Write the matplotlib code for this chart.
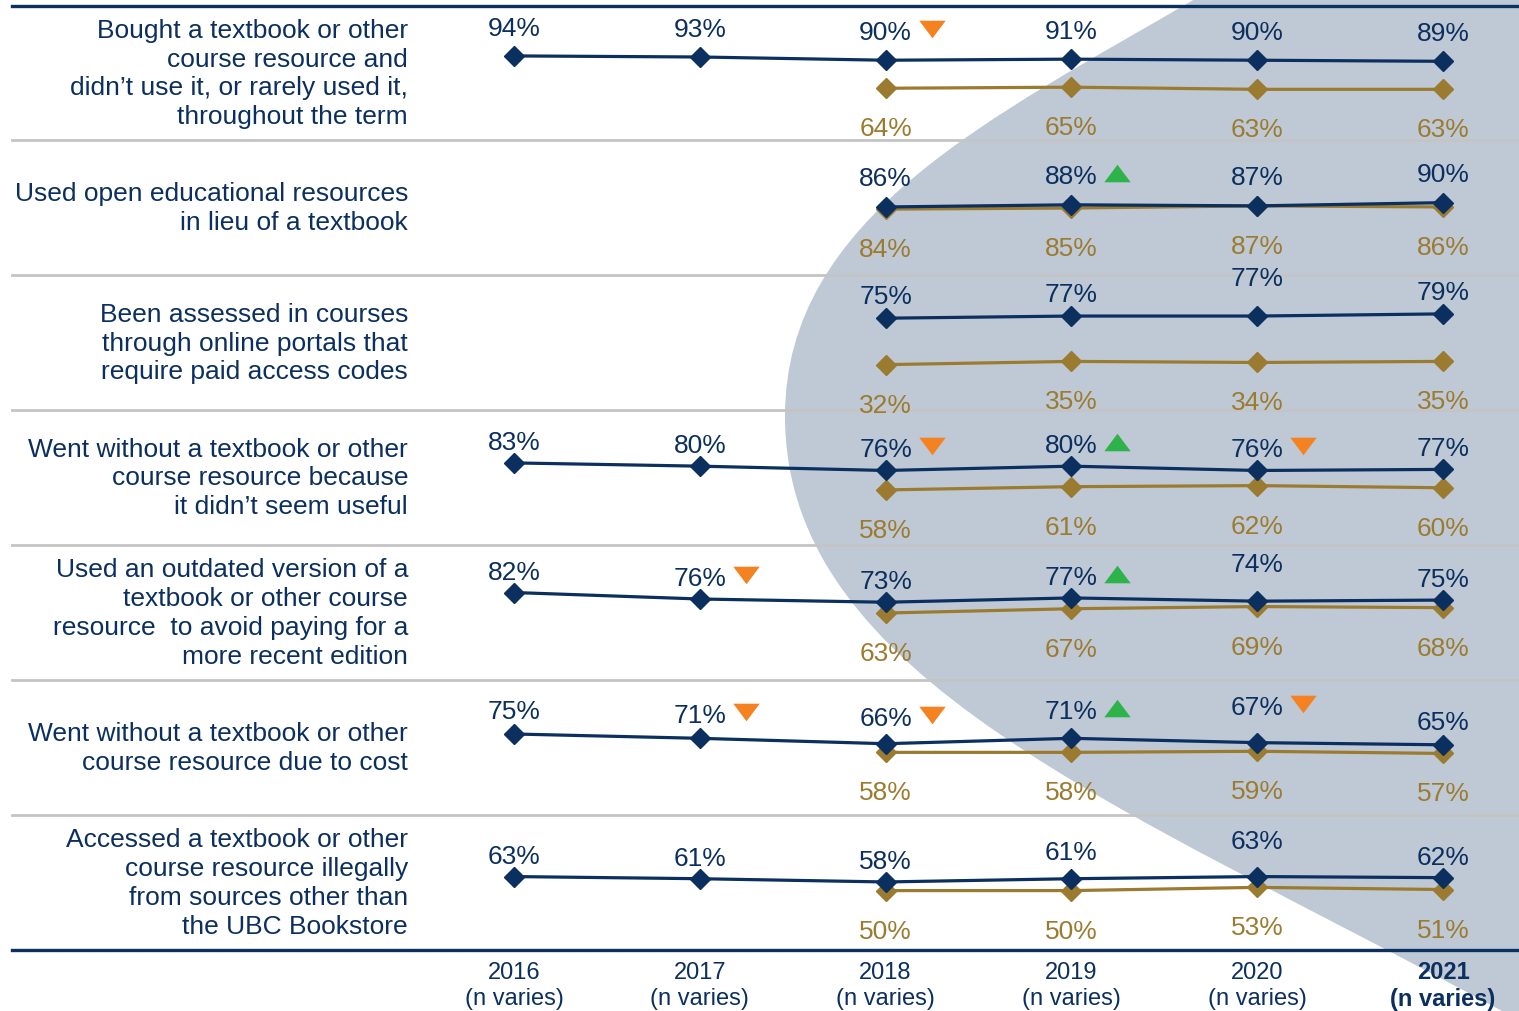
import numpy as np
import matplotlib
matplotlib.use("Agg")
import matplotlib.pyplot as plt
from matplotlib.path import Path
from matplotlib.patches import PathPatch
from matplotlib.transforms import offset_copy

plt.rcParams['font.family'] = ['Liberation Sans', 'DejaVu Sans']

years = ["2016", "2017", "2018", "2019", "2020", "2021"]
categories = [
    "Bought a textbook or other\ncourse resource and\ndidn\u2019t use it, or rarely used it,\nthroughout the term",
    "Used open educational resources\nin lieu of a textbook",
    "Been assessed in courses\nthrough online portals that\nrequire paid access codes",
    "Went without a textbook or other\ncourse resource because\nit didn\u2019t seem useful",
    "Used an outdated version of a\ntextbook or other course\nresource  to avoid paying for a\nmore recent edition",
    "Went without a textbook or other\ncourse resource due to cost",
    "Accessed a textbook or other\ncourse resource illegally\nfrom sources other than\nthe UBC Bookstore",
]
nan = np.nan
navy_vals = [
    [94, 93, 90, 91, 90, 89],
    [nan, nan, 86, 88, 87, 90],
    [nan, nan, 75, 77, 77, 79],
    [83, 80, 76, 80, 76, 77],
    [82, 76, 73, 77, 74, 75],
    [75, 71, 66, 71, 67, 65],
    [63, 61, 58, 61, 63, 62],
]
gold_vals = [
    [nan, nan, 64, 65, 63, 63],
    [nan, nan, 84, 85, 87, 86],
    [nan, nan, 32, 35, 34, 35],
    [nan, nan, 58, 61, 62, 60],
    [nan, nan, 63, 67, 69, 68],
    [nan, nan, 58, 58, 59, 57],
    [nan, nan, 50, 50, 53, 51],
]
# significant changes (row, year index)
sig_down = [(0, 2), (3, 2), (3, 4), (4, 1), (5, 1), (5, 2), (5, 4)]
sig_up = [(1, 3), (3, 3), (4, 3), (5, 3)]

NAVY = "#0B2F5E"
GOLD = "#9B7B30"
BGBLUE = "#BFC9D6"
GRAY = "#C4C4C4"
ORANGE = "#F58220"
GREEN = "#2DB34A"

W, H = 1519, 1012
fig = plt.figure(figsize=(W / 100, H / 100), dpi=100)

# background shape (pixel coords from top-left)
pts = [(1195, 0), (995, 117), (785, 217), (785, 417),
       (785, 680), (1120, 805), (1502, 1012),
       (1519, 1012), (1519, 0), (1195, 0)]
codes = [Path.MOVETO, Path.CURVE4, Path.CURVE4, Path.CURVE4,
         Path.CURVE4, Path.CURVE4, Path.CURVE4,
         Path.LINETO, Path.LINETO, Path.CLOSEPOLY]
verts = [(x / W, 1 - y / H) for x, y in pts]
bg = PathPatch(Path(verts, codes), transform=fig.transFigure,
               facecolor=BGBLUE, edgecolor="none", zorder=-5)
fig.add_artist(bg)

# row layout in pixels
bounds = [7, 141, 276, 411, 546, 681, 816, 951]
ylims = [(16, 140.3), (23, 148), (-10, 115), (7, 132), (1, 126), (0, 125), (-5, 120)]
navy_off = [28, 29, 22, 21, 21, 23, 21]
navy_off_fix = {(2, 4): 38, (4, 4): 37, (5, 4): 36, (6, 4): 36,
                (5, 2): 26, (5, 3): 27, (6, 3): 27}
x0, x1 = 12, 1519
px_per = 185.8
xlim = (-(514 - x0) / px_per, 5 + (x1 - 1443) / px_per)
xs = np.arange(len(years))

tri_down = [(-1.35, 0.9), (1.35, 0.9), (0, -0.9)]
tri_up = [(-1.35, -0.9), (1.35, -0.9), (0, 0.9)]

for i in range(len(categories)):
    top, bot = bounds[i], bounds[i + 1]
    ax = fig.add_axes([x0 / W, 1 - bot / H, (x1 - x0) / W, (bot - top) / H])
    ax.set_xlim(*xlim)
    ax.set_ylim(*ylims[i])
    ax.patch.set_visible(False)
    ax.set_xticks([])
    ax.set_yticks([])
    for s in ["left", "right", "top"]:
        ax.spines[s].set_visible(False)
    ax.spines["bottom"].set_color(GRAY)
    ax.spines["bottom"].set_linewidth(2.0)
    if i == 0:
        ax.spines["top"].set_visible(True)
        ax.spines["top"].set_color(NAVY)
        ax.spines["top"].set_linewidth(2.4)
    if i == len(categories) - 1:
        ax.spines["bottom"].set_color(NAVY)
        ax.spines["bottom"].set_linewidth(2.4)

    nv = np.array(navy_vals[i], dtype=float)
    gv = np.array(gold_vals[i], dtype=float)
    ax.plot(xs, gv, color=GOLD, lw=2.3, marker="D", ms=10, zorder=3)
    ax.plot(xs, nv, color=NAVY, lw=2.3, marker="D", ms=10, zorder=4)

    for j in range(len(years)):
        if not np.isnan(nv[j]):
            off = navy_off_fix.get((i, j), navy_off[i])
            ax.annotate(f"{nv[j]:.0f}%", (xs[j], nv[j]), xytext=(0, off),
                        textcoords="offset pixels", ha="center", va="center",
                        fontsize=19, color=NAVY)
            if (i, j) in sig_down or (i, j) in sig_up:
                tr = offset_copy(ax.transData, fig=fig, x=46, y=off + 3, units="dots")
                mk = tri_down if (i, j) in sig_down else tri_up
                col = ORANGE if (i, j) in sig_down else GREEN
                ax.plot(xs[j], nv[j], marker=mk, ms=19, color=col,
                        mec="none", transform=tr, clip_on=False, zorder=5)
        if not np.isnan(gv[j]):
            ax.annotate(f"{gv[j]:.0f}%", (xs[j], gv[j]), xytext=(0, -40),
                        textcoords="offset pixels", ha="center", va="center",
                        fontsize=19, color=GOLD)

    fig.text(408 / W, 1 - (top + bot) / 2 / H, categories[i], ha="right", va="center",
             fontsize=19, color=NAVY, linespacing=1.25)

# year labels under the last row
for j, yr in enumerate(years):
    xp = (514 + j * px_per) / W
    wt = "bold" if j == len(years) - 1 else "normal"
    fig.text(xp, 1 - 986 / H, f"{yr}\n(n varies)", ha="center", va="center",
             fontsize=17, color=NAVY, fontweight=wt, linespacing=1.22)

fig.savefig("out.png", dpi=100)
